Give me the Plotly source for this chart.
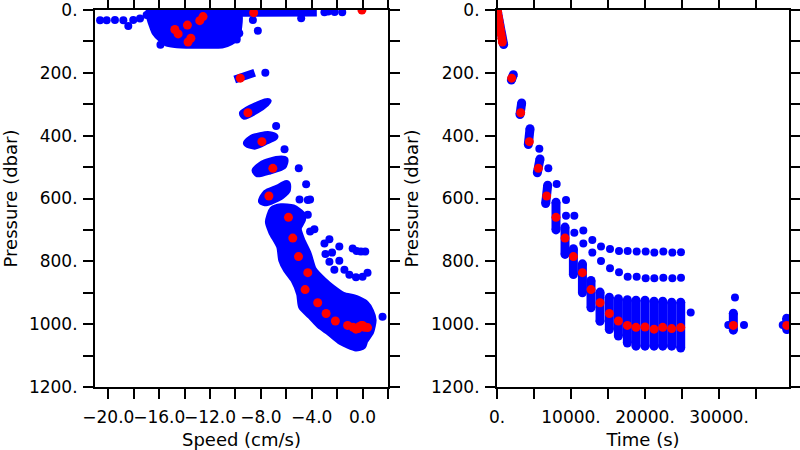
import plotly.graph_objects as go

BLUE = "#0000FF"
RED = "#FF0000"

# ---------------- Left panel: Speed vs Pressure ----------------
# Dense clouds of points, outlined by dot centres (None separates clouds)
blob_speed = [-16.8, -9.8, -9.8, -9.9, -10.4, -11.0, -12.8, -14.6, -15.4, -15.8, -16.3, -16.5, -16.7, -16.8, None,
              -10.06, -8.49, -10.06, None,
              -9.6, -3.6, -9.6, None,
              -9.41, -7.97, -7.45, -8.36, -9.28, -9.41, None,
              -9.10, -8.63, -7.45, -6.93, -7.58, -8.49, -9.10, None,
              -8.42, -7.84, -6.79, -6.14, -6.27, -7.32, -8.24, -8.42, None,
              -7.92, -7.58, -6.67, -5.96, -5.96, -6.53, -7.58, -7.92, None,
              -7.06, -7.37, -7.11, -6.48, -6.32, -5.96, -5.36, -4.91, -4.76, -3.97, -3.35, -2.61,
              -1.70, -0.52, 0.00, 0.13, 0.60, 0.79, 0.60, 0.21, -0.52, -1.57, -2.40, -3.08, -3.92,
              -4.31, -4.83, -5.10, -4.76, -4.76, -5.49, -6.40, -7.06]
blob_pres = [8, 8, 60, 85, 100, 109, 111, 109, 104, 92, 70, 50, 25, 8, None,
             221, 199.5, 221, None,
             9, 8, 9, None,
             329, 299, 292, 318, 337, 329, None,
             424, 408, 398, 403, 416, 432, 424, None,
             511, 491, 477, 477, 496, 511, 520, 511, None,
             608, 584, 568, 554, 573, 594, 612, 608, None,
             637, 674, 706, 753, 796, 826, 859, 904, 944, 976, 1003, 1024,
             1054, 1074, 1068, 1053, 1024, 987, 960, 936, 920, 909, 886, 863, 826,
             777, 732, 695, 666, 653, 631, 628, 637]

# Individual scattered points
dot_speed = [-20.65, -20.13, -19.48, -18.82, -18.43, -18.04, -17.51, -16.99, -15.9, -9.7, -9.9,
             -3.0, -2.7, -2.2, -1.6, -4.83, -8.63, -8.24,
             -7.65, -6.8, -6.14, -5.02,
             -4.44, -4.96, -4.31, -4.13, -4.31, -4.13, -3.79, -3.00, -2.61, -2.92, -2.40,
             -1.83, -2.61, -1.83, -2.22, -1.43, -1.04, -0.52, 0.00, 0.39,
             -0.78, -0.47, -0.13, 0.21, 1.57]
dot_pres = [33, 33, 32, 33, 51, 32, 27, 16, 111, 74, 94,
            7, 5, 6, 7, 26, 32, 66,
            199.5, 369, 443, 504,
            555, 603, 605, 603, 652, 705, 698, 743, 730, 777, 772,
            753, 801, 798, 827, 827, 843, 851, 849, 836,
            759, 767, 769, 769, 976]

# ---------------- Right panel: Time vs Pressure ----------------
# Vertical runs of points at each sampling time (top and bottom of each run)
col_t_top = [60, 2207, 3332, 4458, 5810, 6845, 7970, 9190, 10320, 11540, 12700, 13920, 15180,
             16400, 17610, 18780, 20000, 21220, 22390, 23600, 24820, 31930, 39140]
col_p_top = [6, 206, 296, 378, 474, 558, 612, 691, 760, 808, 861, 898, 914,
             919, 922, 924, 924, 927, 927, 930, 930, 965, 981]
col_t_bot = [900, 1937, 3107, 4233, 5449, 6575, 7970, 9190, 10320, 11540, 12700, 13920, 15180,
             16400, 17610, 18780, 20000, 21220, 22390, 23600, 24820, 31930, 39140]
col_p_bot = [110, 223, 333, 428, 518, 616, 700, 778, 842, 900, 948, 991, 1017,
             1038, 1060, 1070, 1070, 1070, 1070, 1070, 1076, 1019, 1017]

rdot_time = [5720, 6935, 8063, 9322, 9322, 10447, 10447, 11663, 11663, 12880, 12880, 14050, 14050,
             15266, 15266, 16482, 16482, 17653, 17653, 18870, 18870, 20085, 20085, 21256, 21256,
             22473, 22473, 23690, 23690, 24858, 24858, 26170, 32150, 31250, 33370, 38600]
rdot_pres = [442, 504, 554, 605, 655, 655, 709, 702, 743, 732, 772, 753, 799,
             761, 822, 767, 835, 767, 849, 769, 849, 769, 854, 772, 854,
             769, 852, 772, 854, 771, 852, 963, 915, 1003, 1003, 1003]

# ---------------- Highlighted (red) samples: time, speed, pressure ----------------
red_time = [40, 100, 185, 275, 365, 460, 555, 650, 720, 1980, 3200, 4370, 5590, 6710, 7970,
            9190, 10320, 11540, 12700, 13920, 15180, 16400, 17610, 18780, 20000, 21220, 22390,
            23600, 24820, 31930, 39150]
red_speed = [-0.05, -8.57, -12.55, -12.81, -13.78, -14.77, -14.51, -13.51, -13.73, -9.62, -9.02,
             -7.92, -7.06, -7.37, -5.83, -5.49, -5.04, -4.31, -4.52, -3.53, -2.87, -2.14, -1.18,
             -0.75, -0.30, -0.52, 0.15, -0.35, 0.39, 0.0, -0.1]
red_pres = [0, 8.5, 21, 34, 48, 62, 76, 90, 102, 217, 327, 419, 504, 592, 660, 726, 785, 836,
            890, 932, 966, 990, 1004, 1010, 1009, 1016, 1010, 1014, 1011, 1004, 1004]

speed_ticks = [-20, -18, -16, -14, -12, -10, -8, -6, -4, -2, 0, 2]
speed_labels = ["\u221220.0", "", "\u221216.0", "", "\u221212.0", "", "\u22128.0", "", "\u22124.0", "", "0.0", ""]
pres_ticks = [0, 100, 200, 300, 400, 500, 600, 700, 800, 900, 1000, 1100, 1200]
pres_labels = ["0.", "", "200.", "", "400.", "", "600.", "", "800.", "", "1000.", "", "1200."]
time_ticks = [0, 5000, 10000, 15000, 20000, 25000, 30000, 35000]
time_labels = ["0.", "", "10000.", "", "20000.", "", "30000.", ""]

fig = go.Figure()

# left panel
fig.add_trace(go.Scatter(x=blob_speed, y=blob_pres, mode="lines", fill="toself",
                         fillcolor=BLUE, line=dict(color=BLUE, width=8, shape="spline", smoothing=0.6),
                         xaxis="x", yaxis="y", hoverinfo="skip", showlegend=False))
fig.add_trace(go.Scatter(x=dot_speed, y=dot_pres, mode="markers",
                         marker=dict(color=BLUE, size=8), xaxis="x", yaxis="y", showlegend=False))
fig.add_trace(go.Scatter(x=red_speed, y=red_pres, mode="markers",
                         marker=dict(color=RED, size=9), xaxis="x", yaxis="y", showlegend=False))

# right panel: runs as thick segments with round ends
seg_t, seg_p = [], []
for tt, pt, tb, pb in zip(col_t_top, col_p_top, col_t_bot, col_p_bot):
    seg_t += [tt, tb, None]
    seg_p += [pt, pb, None]
fig.add_trace(go.Scatter(x=seg_t, y=seg_p, mode="lines+markers",
                         line=dict(color=BLUE, width=9), marker=dict(color=BLUE, size=9),
                         xaxis="x2", yaxis="y2", showlegend=False))
fig.add_trace(go.Scatter(x=rdot_time, y=rdot_pres, mode="markers",
                         marker=dict(color=BLUE, size=8), xaxis="x2", yaxis="y2", showlegend=False))
fig.add_trace(go.Scatter(x=red_time, y=red_pres, mode="markers",
                         marker=dict(color=RED, size=9), xaxis="x2", yaxis="y2", showlegend=False))

FONT = "DejaVu Sans"
axis_common = dict(showgrid=False, zeroline=False, showline=True, linecolor="black", linewidth=2,
                   ticks="outside", ticklen=10, tickwidth=1.5, tickcolor="black", mirror="ticks",
                   tickfont=dict(family=FONT, size=17, color="black"), automargin=False,
                   ticklabeloverflow="allow")

fig.update_layout(
    width=800, height=450, paper_bgcolor="white", plot_bgcolor="white",
    margin=dict(l=0, r=0, t=10, b=63),
    font=dict(family=FONT, color="black"),
    xaxis=dict(domain=[0.11875, 0.485], range=[-21.05, 2.0], tickmode="array",
               tickvals=speed_ticks, ticktext=speed_labels, anchor="y", tickangle=0,
               ticklabelstandoff=4,
               title=dict(text="Speed (cm/s)", font=dict(family=FONT, size=18), standoff=9),
               **axis_common),
    yaxis=dict(domain=[0, 1], range=[1200, 0], tickmode="array", tickvals=pres_ticks,
               ticktext=pres_labels, anchor="x", ticklabelstandoff=2,
               title=dict(text="Pressure (dbar)", font=dict(family=FONT, size=18), standoff=8),
               **axis_common),
    xaxis2=dict(domain=[0.62125, 0.98625], range=[0, 39450], tickmode="array",
                tickvals=time_ticks, ticktext=time_labels, anchor="y2", tickangle=0,
                ticklabelstandoff=4,
                title=dict(text="Time (s)", font=dict(family=FONT, size=18), standoff=9),
                **axis_common),
    yaxis2=dict(domain=[0, 1], range=[1200, 0], tickmode="array", tickvals=pres_ticks,
                ticktext=pres_labels, anchor="x2", ticklabelstandoff=2,
                title=dict(text="Pressure (dbar)", font=dict(family=FONT, size=18), standoff=8),
                **axis_common),
)

# the page body has a default 8px margin; remove it so the 800x450 figure fills the window
fig.write_html("out.html", config={"displayModeBar": False},
               post_script="document.body.style.margin='0';")
